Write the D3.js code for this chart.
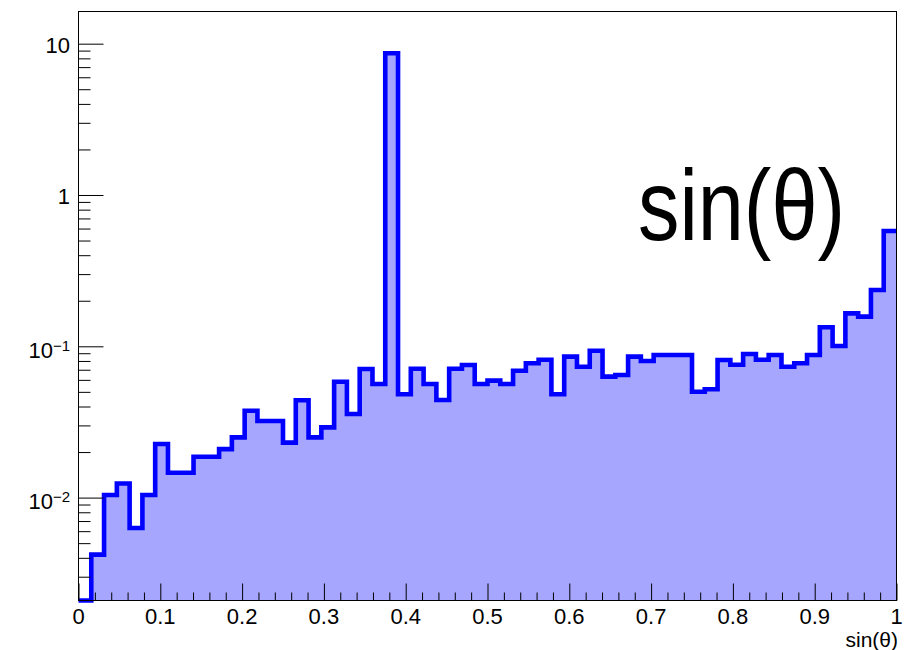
<!DOCTYPE html>
<html><head><meta charset="utf-8">
<script src="https://cdn.jsdelivr.net/npm/d3@7"></script>
<style>body{margin:0;background:#fff}svg{display:block}</style>
</head><body>
<svg id="c" width="921" height="650"></svg>
<script>
// ---- data ----
const nBins = 64;
const xMin = 0, xMax = 1;
const binEdges = d3.range(nBins + 1).map(i => xMin + (xMax - xMin) * i / nBins);
const counts = [
  0, 0.0042, 0.0104, 0.0124, 0.0063, 0.0104, 0.0226, 0.0146,
  0.0146, 0.0186, 0.0186, 0.0209, 0.0250, 0.0375, 0.0321, 0.0321,
  0.0231, 0.0440, 0.0250, 0.0291, 0.0583, 0.0357, 0.0708, 0.0563,
  8.64, 0.0482, 0.0711, 0.0563, 0.0442, 0.0711, 0.0752, 0.0563,
  0.0593, 0.0563, 0.0690, 0.0772, 0.0815, 0.0482, 0.0854, 0.0733,
  0.0935, 0.0630, 0.0646, 0.0854, 0.0799, 0.0876, 0.0876, 0.0876,
  0.0501, 0.0520, 0.0812, 0.0756, 0.0890, 0.0815, 0.0876, 0.0733,
  0.0772, 0.0876, 0.1335, 0.1005, 0.1650, 0.1570, 0.2355, 0.5780
];
const xTickValues = [0, 0.1, 0.2, 0.3, 0.4, 0.5, 0.6, 0.7, 0.8, 0.9, 1];
const xTickLabels = ["0", "0.1", "0.2", "0.3", "0.4", "0.5", "0.6", "0.7", "0.8", "0.9", "1"];
const yTickValues = [0.01, 0.1, 1, 10];
const yTickBase = ["10", "10", "1", "10"];
const yTickExp = ["\u22122", "\u22121", "", ""];
const yDomain = [0.002089, 16.32];
const xTitle = "sin(\u03B8)";
const bigLabel = "sin(\u03B8)";

// ---- layout ----
const L = 78.5, R = 896.5, T = 11.5, B = 600.5;
const svg = d3.select("#c");
const font = "'Liberation Sans', Arial, Helvetica, sans-serif";

const x = d3.scaleLinear().domain([xMin, xMax]).range([L, R]);
const y = d3.scaleLog().domain(yDomain).range([B, T]);
const yc = v => y(Math.max(v, yDomain[0]));

const pts = counts.map((v, i) => [binEdges[i], v]);
pts.push([binEdges[nBins], counts[nBins - 1]]);

const area = d3.area().curve(d3.curveStepAfter)
  .x(d => x(d[0])).y0(B).y1(d => yc(d[1]));
const line = d3.line().curve(d3.curveStepAfter)
  .x(d => x(d[0])).y(d => yc(d[1]));

svg.append("path").attr("d", area(pts)).attr("fill", "#a6a6ff").attr("stroke", "none");
svg.append("path").attr("d", line(pts)).attr("fill", "none")
  .attr("stroke", "#0000ff").attr("stroke-width", 4.6).attr("stroke-linejoin", "miter");

// frame
svg.append("rect").attr("x", L).attr("y", T).attr("width", R - L).attr("height", B - T)
  .attr("fill", "none").attr("stroke", "#000").attr("stroke-width", 1);

// y axis ticks
const yMinor = [];
for (let e = -3; e <= 1; e++) for (let m = 2; m <= 9; m++) {
  const v = m * Math.pow(10, e);
  if (v >= yDomain[0] && v <= yDomain[1]) yMinor.push(v);
}
const gyMinor = svg.append("g").attr("transform", `translate(${L},0)`)
  .call(d3.axisLeft(y).tickValues(yMinor).tickSize(-12).tickFormat(""));
const gyMajor = svg.append("g").attr("transform", `translate(${L},0)`)
  .call(d3.axisLeft(y).tickValues(yTickValues).tickSize(-25).tickFormat(""));
// x axis ticks
const xMinor = d3.range(0, 51).map(i => i / 50).filter(v => Math.round(v * 50) % 5 !== 0);
const gxMinor = svg.append("g").attr("transform", `translate(0,${B})`)
  .call(d3.axisBottom(x).tickValues(xMinor).tickSize(-8).tickFormat(""));
const gxMajor = svg.append("g").attr("transform", `translate(0,${B})`)
  .call(d3.axisBottom(x).tickValues(xTickValues).tickSize(-17).tickFormat(""));
[gyMinor, gyMajor, gxMinor, gxMajor].forEach(g => {
  g.select(".domain").remove();
  g.selectAll(".tick line").attr("stroke", "#000").attr("stroke-width", 1);
});

// x labels
svg.append("g").selectAll("text").data(xTickValues).join("text")
  .attr("x", d => x(d)).attr("y", 623.5)
  .attr("text-anchor", "middle").attr("font-family", font).attr("font-size", 22)
  .attr("fill", "#000").text((d, i) => xTickLabels[i]);

// y labels
const yl = svg.append("g").selectAll("text").data(yTickValues).join("text")
  .attr("x", 70).attr("y", (d, i) => y(d) + (yTickExp[i] ? 11.5 : 9.5))
  .attr("text-anchor", "end").attr("font-family", font).attr("font-size", 22).attr("fill", "#000");
yl.each(function(d, i) {
  const t = d3.select(this);
  t.append("tspan").text(yTickBase[i]);
  if (yTickExp[i]) t.append("tspan").attr("font-size", 15).attr("dy", -7).text(yTickExp[i]);
});

// axis title
svg.append("text").attr("x", 898).attr("y", 647).attr("text-anchor", "end")
  .attr("font-family", font).attr("font-size", 21).attr("fill", "#000").text(xTitle);

// big label
svg.append("text").attr("x", 638).attr("y", 240)
  .attr("font-family", font).attr("font-size", 100).attr("fill", "#000")
  .attr("textLength", 207).attr("lengthAdjust", "spacingAndGlyphs").text(bigLabel);
</script>
</body></html>
